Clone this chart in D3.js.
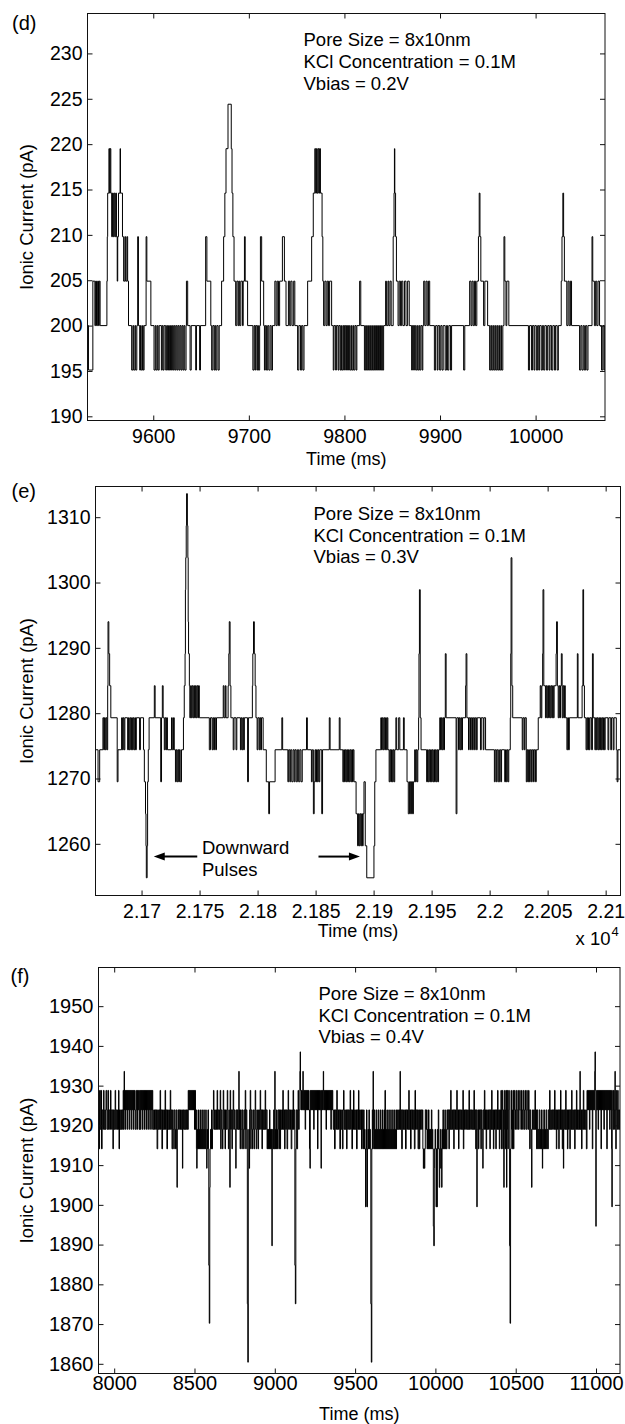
<!DOCTYPE html>
<html><head><meta charset="utf-8">
<script src="https://cdn.jsdelivr.net/npm/d3@7/dist/d3.min.js"></script>
<style>
html,body{margin:0;padding:0;background:#fff;}
svg{display:block;}
text{font-family:"Liberation Sans",Arial,Helvetica,sans-serif;fill:#000;}
</style></head><body>
<svg id="chart" width="625" height="1424"></svg>
<script>
// ================= DATA =================
// panel (d)
const dXDomain = [9531.2, 10072.6];
const dYDomain = [189.54, 234.4];
const dXTicks = [9600, 9700, 9800, 9900, 10000];
const dXTickLabels = ["9600", "9700", "9800", "9900", "10000"];
const dYTicks = [190, 195, 200, 205, 210, 215, 220, 225, 230];
const dYTickLabels = ["190", "195", "200", "205", "210", "215", "220", "225", "230"];
const dInfo = ["Pore Size = 8x10nm", "KCl Concentration = 0.1M", "Vbias = 0.2V"];
// [time ms, current pA]
const dSamples = [
[9531,200],[9532.2,195.1],[9536.8,204.9],[9538.9,200],[9539.7,204.9],[9540.6,200],[9541.8,204.9],[9542.7,200],[9543.5,204.9],[9544.4,200],
[9551.5,204.9],[9551.9,209.8],[9552.3,214.6],[9553.6,219.5],[9554.4,214.6],[9554.8,219.5],[9555.6,214.6],[9556.5,209.8],[9557.3,214.6],[9558.2,209.8],[9559,214.6],[9559.8,209.8],[9560.7,214.6],[9561.5,209.8],[9562.3,204.9],[9562.8,209.8],[9563.6,214.6],[9565.3,219.5],[9565.7,214.6],[9567.8,209.8],[9569,204.9],[9570.3,209.8],[9571.1,204.9],[9572.4,209.8],[9573.2,204.9],[9574.1,200],
[9577.4,195.1],[9578.7,200],[9579.5,195.1],[9580.8,200],[9581.6,195.1],[9582.8,200],[9583.7,209.8],[9584.5,200],[9585.8,195.1],[9586.6,200],[9587.4,195.1],[9588.7,200],[9589.5,195.1],[9590.4,200],[9592.5,209.8],[9593.3,204.9],[9597.5,200],
[9600.8,195.1],[9602.1,200],[9603,195.1],[9604.2,200],[9605.1,195.1],[9606.2,200],[9608.5,195.1],[9609.4,200],[9610.3,195.1],[9611.3,200],[9613,195.1],[9614,200],[9615,195.1],[9616,200],[9616.9,195.1],[9618,200],[9619,195.1],[9620,200],[9621,195.1],[9622,200],[9623,195.1],[9624,200],[9625,195.1],[9626,200],[9627,195.1],[9628,200],[9629,195.1],[9630,200],[9631,195.1],[9632,200],[9633,195.1],[9634.3,200],
[9634.7,204.9],[9636,200],[9638.5,195.1],[9639.7,200],[9644.4,195.1],[9645.2,200],[9648.5,195.1],[9649.4,200],[9654.8,209.8],[9656.1,204.9],[9660.2,200],
[9661.1,195.1],[9662.3,200],[9663.6,195.1],[9664.4,200],[9665.3,195.1],[9666.5,200],[9667.8,195.1],[9669,200],
[9671.5,204.9],[9673.6,209.8],[9674.9,214.6],[9676.1,219.5],[9678.2,224.4],[9681.6,219.5],[9682.4,214.6],[9683.3,209.8],[9684.5,204.9],
[9686.2,200],[9687.4,204.9],[9688.7,200],[9689.5,204.9],[9690.4,200],[9691.6,204.9],[9693.3,200],[9694.1,204.9],[9695.4,209.8],[9696.2,204.9],[9698.7,200],
[9704.2,195.1],[9705.4,200],[9706.3,195.1],[9707.1,200],[9708.4,195.1],[9709.2,200],[9710,195.1],[9711.3,200],
[9712.1,209.8],[9713.4,204.9],[9715.5,200],
[9716.3,195.1],[9717.2,200],[9718.4,195.1],[9719.7,200],[9720.9,195.1],[9722.2,200],[9723.4,195.1],[9724.7,200],
[9727.2,204.9],[9728.5,200],[9729.7,204.9],[9731,200],[9732.2,204.9],[9735.1,209.8],[9737.2,204.9],[9738.9,200],
[9741.4,204.9],[9742.7,200],[9743.9,204.9],[9745.2,200],[9746.9,204.9],[9748.1,200],[9751,195.1],[9752.3,200],[9754,195.1],[9755.2,200],[9756.5,195.1],[9757.7,200],
[9761.5,204.9],[9765.7,209.8],[9767.4,214.6],[9769,219.5],[9769.9,214.6],[9770.7,219.5],[9771.5,214.6],[9772.4,219.5],[9773.2,214.6],[9774,219.5],[9774.9,214.6],[9776.6,209.8],[9777.4,204.9],
[9778.2,200],[9779.5,204.9],[9780.8,200],[9782,204.9],[9783.3,200],[9784.5,204.9],[9786.6,200],
[9788.3,195.1],[9789.1,200],[9790.8,195.1],[9791.6,200],[9793.3,195.1],[9794.1,200],[9795.4,195.1],[9796.2,200],[9797,195.1],[9798.3,200],[9799.2,195.1],[9800,200],[9801.3,195.1],[9802.1,200],[9803.3,195.1],[9804.2,200],[9805.4,195.1],[9806.7,200],[9807.5,195.1],[9808.8,200],[9809.6,195.1],[9810.9,200],[9812.1,195.1],[9813,200],
[9815.9,204.9],[9817.1,200],
[9820.9,195.1],[9822.2,200],[9823,195.1],[9824.3,200],[9825.1,195.1],[9826.4,200],[9827.2,195.1],[9828.5,200],[9829.3,195.1],[9830.6,200],[9831.4,195.1],[9832.6,200],[9833.5,195.1],[9834.7,200],[9835.6,195.1],[9836.8,200],[9837.7,195.1],[9838.9,200],[9839.7,195.1],[9841,200],
[9843.1,204.9],[9843.9,200],[9845.5,204.9],[9846.4,200],[9847.7,204.9],[9848.9,200],
[9851,209.8],[9851.9,214.6],[9852.3,219.5],[9852.7,214.6],[9853.5,209.8],[9854.4,204.9],
[9856.1,200],[9857.3,204.9],[9858.6,200],[9859.8,204.9],[9861.1,200],[9862.8,204.9],[9864.4,200],[9866.1,204.9],[9867.8,200],
[9870.3,195.1],[9871.1,200],[9872.4,195.1],[9873.2,200],[9874.5,195.1],[9875.7,200],[9876.6,195.1],[9877.8,200],[9878.7,195.1],[9879.9,200],[9881.2,195.1],[9882,200],
[9882.9,204.9],[9884.1,200],[9885.4,204.9],[9886.6,200],[9887.9,204.9],[9889.2,200],
[9894.1,195.1],[9895.4,200],[9897.1,195.1],[9897.9,200],[9899.6,195.1],[9900.8,200],[9902.1,195.1],[9903.3,200],[9905.4,195.1],[9906.7,200],[9907.9,195.1],[9909.2,200],[9910.9,195.1],[9912.1,200],
[9924.7,195.1],[9925.9,200],
[9931,204.9],[9932.4,200],[9933.5,204.9],[9934.7,200],[9936,204.9],[9937.2,200],[9938.5,204.9],
[9940.2,209.8],[9941,214.6],[9941.8,209.8],[9942.7,204.9],
[9945.6,200],[9946.9,204.9],[9949.8,200],
[9951.9,195.1],[9953.1,200],[9954,195.1],[9955.2,200],[9956.1,195.1],[9957.3,200],[9958.2,195.1],[9959.4,200],[9960.3,195.1],[9961.5,200],[9962.3,195.1],[9963.6,200],[9964.4,195.1],[9965.7,200],
[9966.9,209.8],[9967.8,204.9],[9969,200],[9969.9,204.9],[9972,200],
[9992.5,195.1],[9993.7,200],[9995.8,195.1],[9996.7,200],[9998.3,195.1],[9999.2,200],[10000.8,195.1],[10002.1,200],[10003.3,195.1],[10004.2,200],[10005.9,195.1],[10007.1,200],[10008.4,195.1],[10009.6,200],[10011.3,195.1],[10012.6,200],[10014.2,195.1],[10015.1,200],[10016.7,195.1],[10018,200],[10019.7,195.1],[10020.9,200],[10022.6,195.1],[10023.8,200],
[10026.8,204.9],[10027.6,209.8],[10028.5,214.6],[10029.3,209.8],[10030.1,204.9],
[10032.6,200],[10033.9,204.9],[10035.1,200],[10036.4,204.9],[10037.6,200],
[10046,195.1],[10047.3,200],[10048.5,195.1],[10049.8,200],[10051,195.1],[10052.3,200],[10053.6,195.1],[10054.8,200],
[10059,209.8],[10059.8,204.9],
[10061.5,200],[10062.8,204.9],[10064,200],[10065.3,204.9],[10066.9,200],
[10069,195.1],[10070.3,200],[10071.5,195.1],[10072.4,200],[10073,200]
];

// panel (e)
const eXDomain = [21660.3, 22112.8];
const eYDomain = [1252.09, 1314.7];
const eXTicks = [21700, 21750, 21800, 21850, 21900, 21950, 22000, 22050, 22100];
const eXTickLabels = ["2.17", "2.175", "2.18", "2.185", "2.19", "2.195", "2.2", "2.205", "2.21"];
const eYTicks = [1260, 1270, 1280, 1290, 1300, 1310];
const eYTickLabels = ["1260", "1270", "1280", "1290", "1300", "1310"];
const eInfo = ["Pore Size = 8x10nm", "KCl Concentration = 0.1M", "Vbias = 0.3V"];
const eNote = ["Downward", "Pulses"];
const eSamples = [
[21659.8,1274.4],[21662.5,1269.5],[21663.9,1274.4],[21666.7,1279.3],[21667.4,1274.4],[21668,1279.3],[21668.7,1274.4],[21669.4,1279.3],[21670.1,1274.4],[21670.8,1284.2],[21671.1,1294],[21671.8,1289.1],[21672.5,1284.2],[21673.5,1279.3],
[21679,1269.5],[21679.7,1274.4],[21682.8,1279.3],[21683.5,1274.4],[21684.2,1279.3],[21684.9,1274.4],[21685.6,1279.3],[21688,1274.4],[21688.7,1279.3],[21689.3,1274.4],[21690,1279.3],[21690.7,1274.4],[21691.4,1279.3],[21692.1,1274.4],[21692.8,1279.3],[21693.5,1274.4],[21694.2,1279.3],[21694.8,1274.4],[21695.5,1279.3],[21698.3,1274.4],[21699,1279.3],
[21701.7,1274.4],[21702.4,1269.5],[21703.4,1264.6],[21703.8,1259.7],[21704.1,1254.8],[21704.8,1259.7],[21705.2,1269.5],[21705.8,1274.4],[21706.5,1279.3],
[21711,1284.2],[21711.7,1279.3],[21716.5,1269.5],[21717.2,1279.3],[21717.9,1284.2],[21718.6,1279.3],[21719.6,1274.4],[21720.3,1279.3],[21721,1274.4],[21721.6,1279.3],[21722.3,1274.4],[21725.8,1279.3],[21726.5,1274.4],[21727.5,1279.3],[21728.2,1274.4],
[21729.2,1269.5],[21729.9,1274.4],[21730.6,1269.5],[21731.3,1274.4],[21732,1269.5],[21732.6,1274.4],[21733.3,1269.5],[21734.4,1274.4],
[21736.1,1279.3],[21736.8,1284.2],[21737.5,1289.1],[21737.8,1298.9],[21738.1,1303.8],[21738.5,1308.7],[21738.8,1313.6],[21739.5,1308.7],[21739.9,1303.8],[21740.2,1294],[21740.5,1289.1],[21741.2,1284.2],
[21741.6,1279.3],[21742.3,1284.2],[21742.9,1279.3],[21743.6,1284.2],[21744.3,1279.3],[21745,1284.2],[21745.7,1279.3],[21746.4,1284.2],[21747.1,1279.3],[21747.8,1284.2],[21748.5,1279.3],[21749.1,1284.2],[21749.8,1279.3],
[21758.4,1274.4],[21759.4,1279.3],[21760.8,1274.4],[21761.5,1279.3],[21762.2,1274.4],[21762.9,1279.3],[21763.9,1274.4],[21764.6,1279.3],
[21770.4,1284.2],[21771.1,1279.3],[21772.2,1284.2],[21772.8,1279.3],[21774.6,1284.2],[21775.2,1289.1],[21775.6,1294],[21776.3,1284.2],[21777,1279.3],
[21779,1274.4],[21779.7,1279.3],[21781.4,1274.4],[21782.1,1279.3],[21785.2,1274.4],[21785.9,1279.3],[21786.6,1274.4],[21787.3,1279.3],[21788,1274.4],[21788.6,1279.3],[21791.4,1269.5],[21792.1,1279.3],
[21795.5,1284.2],[21795.9,1289.1],[21796.5,1294],[21797.2,1289.1],[21797.9,1284.2],[21798.6,1279.3],
[21799.6,1274.4],[21800.3,1279.3],[21801.4,1274.4],[21802,1279.3],[21802.7,1274.4],[21803.4,1279.3],[21804.8,1274.4],[21807.5,1269.5],[21809.6,1264.6],[21810.3,1269.5],[21815.1,1274.4],[21820.9,1279.3],[21821.6,1274.4],
[21826.1,1269.5],[21826.8,1274.4],[21827.8,1269.5],[21828.5,1274.4],[21829.5,1269.5],[21830.6,1274.4],[21831.6,1269.5],[21832.3,1274.4],[21833.3,1269.5],[21834.3,1274.4],[21835.4,1269.5],[21836.4,1274.4],[21837.4,1269.5],[21838.5,1274.4],
[21842.2,1279.3],[21842.9,1274.4],
[21846.4,1269.5],[21847.1,1274.4],[21848.1,1264.6],[21848.8,1269.5],[21849.5,1274.4],[21850.1,1269.5],[21850.8,1274.4],[21851.5,1269.5],[21852.2,1274.4],[21852.9,1269.5],[21853.6,1274.4],[21855.3,1264.6],[21856,1274.4],
[21861.8,1279.3],[21862.5,1274.4],[21870.4,1279.3],[21871.1,1274.4],
[21873.5,1269.5],[21874.2,1274.4],[21874.9,1269.5],[21875.6,1274.4],[21876.3,1269.5],[21876.9,1274.4],[21877.6,1269.5],[21878.3,1274.4],[21879,1269.5],[21879.7,1274.4],[21880.4,1269.5],[21881.1,1274.4],[21881.8,1269.5],[21882.4,1274.4],[21883.1,1269.5],
[21884.9,1264.6],[21886.2,1259.7],[21886.9,1264.6],[21887.6,1259.7],[21888.3,1264.6],[21889,1259.7],[21889.7,1264.6],[21890.4,1259.7],[21891,1264.6],[21891.7,1269.5],[21892.8,1259.7],[21894.1,1254.8],[21900.3,1259.7],[21901,1269.5],[21902,1274.4],
[21906.2,1279.3],[21906.8,1274.4],[21907.5,1279.3],[21908.2,1274.4],[21908.9,1279.3],[21909.6,1274.4],[21910.3,1279.3],[21911,1274.4],[21911.7,1279.3],[21912.3,1274.4],
[21913.4,1269.5],[21914.1,1274.4],[21914.8,1269.5],[21915.4,1274.4],[21916.1,1269.5],[21916.8,1274.4],[21917.5,1269.5],[21918.2,1274.4],
[21919.2,1279.3],[21919.9,1274.4],[21921.6,1279.3],[21922.6,1274.4],[21925.7,1279.3],[21926.4,1274.4],
[21928.8,1269.5],[21929.9,1264.6],[21930.9,1269.5],[21931.9,1264.6],[21932.6,1269.5],[21933.6,1264.6],[21934.3,1269.5],[21935.4,1274.4],[21936,1269.5],[21936.7,1274.4],[21937.4,1269.5],[21938.1,1274.4],
[21938.8,1279.3],[21939.1,1289.1],[21939.5,1298.9],[21940.2,1279.3],[21940.9,1274.4],
[21945.7,1269.5],[21946.4,1274.4],[21947,1269.5],[21947.7,1274.4],[21948.4,1269.5],[21949.1,1274.4],[21949.8,1269.5],[21950.5,1274.4],[21951.2,1269.5],[21951.9,1274.4],[21952.5,1269.5],[21953.2,1274.4],[21953.9,1269.5],[21954.6,1274.4],[21955.3,1269.5],[21956,1274.4],
[21957,1279.3],[21957.7,1274.4],[21958.4,1279.3],[21959.1,1274.4],[21959.8,1279.3],[21960.4,1274.4],[21961.1,1279.3],[21961.8,1289.1],[21962.5,1279.3],
[21971.1,1264.6],[21971.8,1279.3],[21973.2,1274.4],[21973.8,1279.3],[21974.5,1274.4],[21975.2,1279.3],[21975.9,1274.4],[21976.6,1279.3],[21979.3,1284.2],[21979.7,1289.1],[21980.4,1279.3],
[21981.8,1274.4],[21982.4,1279.3],[21983.5,1274.4],[21984.2,1279.3],[21985.2,1274.4],[21985.9,1279.3],[21986.9,1274.4],[21987.6,1279.3],[21988.6,1274.4],[21989.3,1279.3],
[21992.1,1274.4],[21992.8,1279.3],[21994.5,1274.4],[21995.1,1279.3],[21996.5,1274.4],
[22004.1,1269.5],[22004.8,1274.4],[22005.8,1269.5],[22006.5,1274.4],[22007.5,1269.5],[22008.6,1274.4],[22009.6,1269.5],[22010.3,1274.4],
[22013,1269.5],[22013.7,1274.4],[22014.4,1269.5],[22015.1,1274.4],[22015.8,1269.5],[22016.5,1274.4],
[22017.8,1279.3],[22018.2,1289.1],[22018.5,1303.8],[22019.2,1284.2],[22019.9,1279.3],
[22028.1,1274.4],[22028.8,1279.3],[22029.9,1274.4],[22030.5,1279.3],[22031.6,1269.5],[22032.3,1274.4],[22032.9,1269.5],[22033.6,1274.4],[22034.3,1269.5],[22035,1274.4],[22036,1269.5],[22036.7,1274.4],[22037.8,1269.5],[22038.4,1274.4],[22039.5,1269.5],[22040.2,1274.4],
[22041.9,1279.3],[22043.6,1284.2],[22044.3,1279.3],[22045,1284.2],[22045.7,1289.1],[22046,1298.9],[22046.7,1284.2],
[22048.1,1279.3],[22048.8,1284.2],[22049.4,1279.3],[22050.1,1284.2],[22050.8,1279.3],[22051.5,1284.2],[22052.2,1279.3],[22052.9,1284.2],[22053.6,1279.3],[22054.3,1284.2],[22054.9,1279.3],[22055.6,1284.2],
[22057.3,1289.1],[22057.7,1294],[22058.4,1284.2],[22059.1,1279.3],[22059.8,1284.2],[22060.4,1279.3],[22061.1,1284.2],[22061.8,1289.1],[22062.5,1279.3],[22063.2,1284.2],[22063.9,1279.3],[22064.6,1284.2],[22065.2,1279.3],
[22066.6,1274.4],[22067.3,1279.3],[22068,1274.4],[22068.7,1279.3],
[22075.6,1289.1],[22076.2,1279.3],[22079.7,1284.2],[22080.4,1298.9],[22081,1284.2],[22081.7,1279.3],
[22083.1,1274.4],[22083.8,1279.3],[22084.5,1274.4],[22085.2,1279.3],[22085.9,1274.4],[22086.5,1279.3],[22087.9,1274.4],[22088.6,1289.1],[22089.3,1279.3],
[22090.7,1274.4],[22091.4,1279.3],[22092,1274.4],[22092.7,1279.3],[22093.4,1274.4],[22094.1,1279.3],[22094.8,1274.4],[22095.5,1279.3],[22096.2,1274.4],[22096.8,1279.3],[22097.5,1274.4],[22098.2,1279.3],[22098.9,1274.4],[22099.6,1279.3],
[22102,1274.4],[22102.7,1279.3],[22104.4,1274.4],[22105.1,1279.3],[22106.5,1274.4],[22107.2,1279.3],[22109.2,1274.4],[22109.9,1269.5],[22110.6,1274.4],[22112.8,1274.4]
];

// panel (f)
const fXDomain = [7902.3, 11149.4];
const fYDomain = [1857.56, 1959.73];
const fXTicks = [8000, 8500, 9000, 9500, 10000, 10500, 11000];
const fXTickLabels = ["8000", "8500", "9000", "9500", "10000", "10500", "11000"];
const fYTicks = [1860, 1870, 1880, 1890, 1900, 1910, 1920, 1930, 1940, 1950];
const fYTickLabels = ["1860", "1870", "1880", "1890", "1900", "1910", "1920", "1930", "1940", "1950"];
const fInfo = ["Pore Size = 8x10nm", "KCl Concentration = 0.1M", "Vbias = 0.4V"];
const fSamples = [
[7902,1923.9],[7906,1914.1],[7909,1928.8],[7913,1919],[7917,1928.8],[7921,1914.1],[7925,1923.9],[7929,1919],[7933,1928.8],[7937,1919],[7941,1923.9],[7945,1919],[7949,1928.8],[7953,1923.9],[7957,1919],[7961,1928.8],[7965,1919],[7969,1923.9],[7973,1919],
[7977,1928.8],[7980,1923.9],[7984,1919],[7988,1923.9],[7992,1914.1],[7995,1923.9],[7999,1919],[8003,1923.9],[8006,1928.8],[8009,1919],[8013,1923.9],[8017,1919],[8021,1923.9],[8025,1919],[8027,1928.8],[8030,1914.1],[8033,1923.9],[8037,1919],[8041,1923.9],[8045,1919],[8049,1923.9],[8053,1919],
[8056,1928.8],[8059,1919],[8062,1933.6],[8064,1923.9],[8067,1928.8],[8070,1919],[8073,1928.8],[8076,1923.9],[8079,1928.8],[8082,1919],[8085,1928.8],[8088,1923.9],[8091,1928.8],[8094,1919],[8097,1928.8],[8100,1923.9],[8103,1928.8],[8106,1919],[8109,1928.8],[8112,1923.9],[8115,1928.8],[8118,1919],[8121,1928.8],[8124,1923.9],[8127,1928.8],[8130,1919],[8134,1923.9],[8138,1928.8],[8141,1919],[8145,1928.8],[8148,1923.9],[8152,1928.8],[8155,1919],[8159,1928.8],
[8162,1919],[8165,1928.8],[8168,1923.9],[8171,1928.8],[8174,1919],[8177,1928.8],[8180,1923.9],[8183,1928.8],[8186,1919],[8189,1928.8],[8192,1923.9],[8195,1928.8],[8198,1919],[8201,1928.8],[8204,1923.9],[8207,1928.8],[8210,1919],[8213,1928.8],[8216,1923.9],[8219,1928.8],[8222,1919],[8225,1928.8],[8228,1923.9],[8231,1928.8],[8234,1919],[8237,1928.8],[8240,1923.9],[8243,1919],[8247,1923.9],[8251,1919],
[8255,1923.9],[8259,1919],[8263,1923.9],[8267,1914.1],[8271,1923.9],[8275,1919],[8279,1923.9],[8283,1919],[8286,1928.8],[8289,1919],[8293,1923.9],[8297,1914.1],[8301,1923.9],[8305,1919],[8309,1923.9],[8313,1919],[8317,1928.8],[8320,1919],[8324,1923.9],[8328,1914.1],[8332,1923.9],[8336,1919],[8340,1923.9],[8344,1919],[8349,1928.8],[8352,1919],[8356,1923.9],[8360,1914.1],[8364,1923.9],
[8367,1919],[8371,1914.1],[8374,1923.9],[8378,1919],[8382,1914.1],[8385,1923.9],[8389,1914.1],[8391,1904.4],[8393,1919],[8397,1923.9],[8401,1919],[8405,1923.9],[8409,1919],[8413,1923.9],[8417,1919],[8421,1923.9],[8425,1909.2],[8427,1919],[8431,1923.9],[8435,1919],[8439,1923.9],[8443,1919],[8447,1923.9],[8451,1919],[8455,1923.9],[8458,1919],
[8461,1928.8],[8464,1923.9],[8467,1928.8],[8470,1923.9],[8473,1928.8],[8476,1923.9],[8479,1928.8],[8482,1923.9],[8485,1928.8],[8488,1923.9],[8491,1928.8],[8494,1923.9],[8497,1928.8],[8500,1919],[8503,1928.8],[8506,1919],[8509,1923.9],[8512,1914.1],[8514,1909.2],[8516,1919],
[8519,1914.1],[8522,1923.9],[8525,1914.1],[8528,1919],[8531,1914.1],[8534,1923.9],[8537,1914.1],[8540,1919],[8543,1914.1],[8546,1923.9],[8549,1914.1],[8552,1919],[8555,1914.1],[8558,1923.9],[8561,1914.1],[8564,1919],[8567,1914.1],[8570,1923.9],[8573,1914.1],[8576,1909.2],[8578,1919],[8581,1914.1],[8584,1923.9],[8587,1914.1],[8589,1884.8],[8592,1870.2],[8595,1904.4],[8597,1914.1],[8600,1919],[8603,1914.1],[8606,1923.9],[8609,1914.1],[8612,1919],[8615,1923.9],
[8618,1928.8],[8621,1919],[8625,1923.9],[8629,1919],[8633,1923.9],[8637,1919],[8641,1928.8],[8644,1919],[8648,1923.9],[8652,1919],[8656,1923.9],[8660,1928.8],[8663,1914.1],[8666,1923.9],[8670,1919],[8674,1914.1],[8677,1923.9],[8679,1928.8],[8682,1919],[8686,1923.9],[8690,1914.1],[8693,1923.9],[8697,1919],[8701,1923.9],[8704,1928.8],[8707,1919],[8711,1914.1],[8714,1923.9],[8717,1919],[8720,1904.4],[8722,1928.8],[8725,1919],[8729,1923.9],[8733,1914.1],[8736,1923.9],[8741,1928.8],[8744,1919],[8748,1923.9],[8752,1919],[8757,1909.2],[8759,1923.9],[8763,1919],[8767,1923.9],[8771,1919],[8776,1933.6],[8778,1919],[8781,1923.9],
[8784,1914.1],[8787,1923.9],[8791,1919],[8795,1914.1],[8798,1923.9],[8802,1919],[8806,1914.1],[8809,1923.9],[8813,1919],[8816,1928.8],[8819,1914.1],[8822,1923.9],[8826,1919],[8829,1875.1],[8832,1860.4],[8835,1909.2],[8838,1919],[8841,1909.2],[8843,1923.9],[8847,1928.8],[8850,1914.1],[8853,1923.9],[8857,1919],[8861,1914.1],[8864,1923.9],[8868,1919],[8872,1914.1],[8875,1923.9],[8878,1928.8],[8881,1919],[8885,1914.1],[8888,1923.9],[8892,1919],[8896,1914.1],[8899,1923.9],[8903,1919],[8906,1923.9],[8909,1928.8],[8912,1919],[8916,1923.9],[8920,1914.1],[8923,1923.9],[8927,1919],[8931,1923.9],[8935,1919],[8940,1928.8],[8943,1919],[8947,1923.9],
[8952,1914.1],[8955,1919],[8958,1914.1],[8961,1919],[8964,1914.1],[8967,1923.9],[8970,1914.1],[8973,1919],[8976,1914.1],[8979,1919],[8982,1889.7],[8984,1914.1],[8987,1919],[8990,1914.1],[8993,1923.9],[8996,1914.1],[9000,1933.6],[9002,1914.1],[9005,1919],[9008,1914.1],[9011,1923.9],[9014,1914.1],
[9017,1919],[9021,1923.9],[9025,1914.1],[9029,1923.9],[9033,1914.1],[9036,1923.9],[9040,1919],[9044,1923.9],[9048,1919],[9050,1928.8],[9053,1919],[9057,1923.9],[9061,1914.1],[9064,1923.9],[9068,1919],[9072,1923.9],[9076,1914.1],[9080,1923.9],[9083,1928.8],[9086,1919],[9090,1923.9],[9094,1919],[9098,1923.9],[9102,1914.1],[9106,1923.9],[9110,1919],[9114,1928.8],[9117,1919],[9121,1923.9],[9125,1884.8],[9128,1875.1],[9131,1914.1],[9134,1923.9],[9138,1914.1],[9142,1923.9],[9145,1928.8],[9148,1919],[9152,1923.9],
[9156,1933.6],[9158,1938.5],[9160,1928.8],[9163,1923.9],[9166,1928.8],[9169,1923.9],[9172,1928.8],[9175,1933.6],[9177,1923.9],[9180,1928.8],[9183,1923.9],[9186,1928.8],[9189,1919],[9192,1928.8],[9195,1923.9],[9198,1928.8],[9201,1923.9],[9204,1928.8],[9207,1923.9],[9210,1928.8],[9213,1923.9],[9216,1914.1],[9219,1909.2],[9221,1928.8],[9224,1923.9],[9227,1928.8],[9230,1923.9],[9233,1928.8],[9236,1923.9],[9239,1928.8],[9242,1919],[9245,1928.8],[9248,1923.9],[9251,1928.8],[9254,1923.9],[9257,1928.8],[9260,1923.9],[9263,1928.8],[9266,1914.1],[9269,1928.8],[9272,1923.9],[9275,1928.8],[9278,1923.9],[9281,1928.8],[9284,1923.9],[9288,1909.2],[9290,1928.8],[9293,1923.9],[9296,1928.8],[9299,1923.9],[9302,1933.6],[9304,1928.8],[9307,1923.9],[9310,1928.8],[9313,1923.9],[9316,1928.8],[9319,1919],[9322,1928.8],[9325,1923.9],[9328,1928.8],[9331,1923.9],[9334,1928.8],[9337,1923.9],[9340,1928.8],[9343,1923.9],[9346,1928.8],[9349,1919],[9352,1928.8],[9355,1923.9],[9358,1928.8],[9361,1923.9],
[9364,1919],[9368,1923.9],[9372,1914.1],[9376,1923.9],[9380,1919],[9384,1923.9],[9386,1928.8],[9389,1919],[9393,1923.9],[9397,1919],[9401,1923.9],[9405,1914.1],[9409,1923.9],[9413,1919],[9417,1923.9],[9421,1914.1],[9425,1923.9],[9428,1928.8],[9431,1919],[9435,1923.9],[9439,1919],[9443,1923.9],[9447,1914.1],[9450,1923.9],[9454,1919],[9458,1923.9],[9462,1919],[9466,1923.9],[9469,1928.8],[9472,1919],[9476,1923.9],[9480,1914.1],[9484,1923.9],[9488,1919],[9490,1928.8],[9493,1919],[9497,1923.9],[9501,1919],[9505,1923.9],[9509,1914.1],[9513,1923.9],[9517,1919],[9521,1928.8],[9524,1919],[9528,1923.9],[9532,1919],[9536,1923.9],[9540,1914.1],[9544,1923.9],[9547,1919],
[9550,1914.1],[9553,1923.9],[9556,1914.1],[9559,1919],[9562,1914.1],[9565,1899.5],[9568,1914.1],[9571,1923.9],[9574,1899.5],[9577,1914.1],[9580,1919],[9583,1914.1],[9586,1923.9],[9589,1914.1],[9592,1919],[9595,1914.1],[9598,1875.1],[9601,1860.4],[9604,1914.1],[9607,1923.9],[9610,1914.1],[9612,1933.6],[9614,1919],[9617,1914.1],[9620,1923.9],[9623,1914.1],[9626,1919],[9629,1914.1],[9632,1923.9],[9635,1914.1],[9638,1919],[9641,1914.1],[9644,1923.9],[9647,1914.1],[9650,1919],[9653,1914.1],
[9656,1923.9],[9659,1914.1],[9662,1919],[9665,1914.1],[9668,1923.9],[9671,1914.1],[9674,1919],[9677,1914.1],[9680,1923.9],[9683,1914.1],[9686,1928.8],[9689,1914.1],[9692,1919],[9695,1914.1],[9698,1923.9],[9701,1914.1],[9704,1919],[9707,1914.1],[9710,1923.9],[9713,1914.1],[9716,1919],[9719,1914.1],[9722,1923.9],[9725,1914.1],[9728,1919],[9731,1914.1],[9734,1923.9],[9737,1914.1],[9740,1919],[9743,1914.1],[9746,1923.9],[9749,1914.1],[9752,1919],[9755,1914.1],[9758,1923.9],
[9761,1919],[9765,1923.9],[9769,1919],[9773,1923.9],[9777,1919],[9780,1933.6],[9782,1919],[9786,1923.9],[9790,1914.1],[9794,1923.9],[9798,1919],[9802,1923.9],[9806,1919],[9810,1923.9],[9814,1914.1],[9818,1923.9],[9822,1919],[9826,1923.9],[9830,1919],[9834,1928.8],[9837,1919],[9841,1923.9],[9845,1914.1],[9849,1923.9],[9853,1919],[9857,1923.9],[9861,1919],[9865,1923.9],[9869,1914.1],[9873,1928.8],[9876,1919],[9880,1923.9],[9884,1919],[9888,1923.9],[9892,1914.1],[9896,1923.9],[9900,1914.1],[9903,1923.9],[9907,1919],[9911,1923.9],[9915,1919],[9919,1923.9],[9922,1914.1],[9925,1909.2],[9928,1914.1],[9931,1909.2],[9934,1914.1],[9937,1923.9],[9941,1919],[9945,1923.9],
[9948,1914.1],[9951,1919],[9954,1914.1],[9957,1923.9],[9960,1914.1],[9963,1919],[9966,1914.1],[9969,1919],[9972,1914.1],[9975,1923.9],[9978,1914.1],[9981,1919],[9984,1914.1],[9987,1894.6],[9990,1889.7],[9993,1909.2],[9995,1914.1],[9998,1919],[10001,1914.1],[10004,1899.5],[10007,1914.1],[10010,1899.5],[10012,1919],[10015,1914.1],[10018,1923.9],[10021,1914.1],[10024,1904.4],[10027,1914.1],[10030,1919],[10033,1909.2],[10036,1914.1],[10039,1904.4],[10041,1919],[10044,1914.1],[10047,1923.9],[10050,1914.1],[10053,1919],[10056,1914.1],[10059,1923.9],[10062,1914.1],[10065,1919],[10068,1914.1],
[10072,1923.9],[10076,1919],[10080,1923.9],[10084,1914.1],[10087,1923.9],[10091,1919],[10095,1928.8],[10098,1919],[10102,1923.9],[10106,1919],[10110,1923.9],[10114,1914.1],[10117,1923.9],[10121,1919],[10125,1923.9],[10129,1919],[10133,1928.8],[10136,1919],[10140,1923.9],[10144,1914.1],[10147,1923.9],[10151,1919],[10155,1923.9],[10159,1919],[10163,1923.9],[10167,1919],[10171,1928.8],[10174,1914.1],[10177,1923.9],[10181,1919],[10185,1923.9],[10189,1919],[10193,1923.9],[10197,1919],[10201,1923.9],[10205,1919],[10209,1928.8],[10212,1919],[10216,1923.9],[10220,1919],[10224,1923.9],[10228,1919],[10232,1923.9],[10236,1919],[10240,1928.8],[10243,1919],[10247,1923.9],[10251,1914.1],[10254,1923.9],[10258,1899.5],[10260,1919],[10264,1923.9],[10268,1914.1],[10271,1923.9],[10275,1919],[10279,1923.9],[10283,1914.1],[10286,1923.9],[10290,1919],[10295,1909.2],[10297,1923.9],[10301,1919],[10305,1928.8],[10308,1919],[10312,1923.9],[10316,1914.1],[10319,1923.9],[10323,1919],[10327,1923.9],[10331,1919],[10335,1923.9],[10339,1914.1],[10342,1923.9],[10346,1919],[10350,1928.8],[10353,1919],[10357,1923.9],[10361,1914.1],[10364,1923.9],[10368,1919],[10372,1923.9],[10376,1914.1],[10379,1923.9],[10383,1919],[10387,1928.8],[10390,1919],[10394,1923.9],[10398,1914.1],[10401,1923.9],
[10405,1919],[10408,1928.8],[10411,1914.1],[10414,1923.9],[10417,1928.8],[10420,1914.1],[10423,1923.9],[10426,1904.4],[10428,1919],[10431,1928.8],[10434,1914.1],[10437,1923.9],[10440,1928.8],[10443,1904.4],[10445,1919],[10448,1928.8],[10451,1914.1],[10454,1923.9],[10457,1928.8],[10460,1914.1],[10462,1889.7],[10465,1870.2],[10468,1914.1],[10471,1928.8],[10474,1919],[10477,1914.1],[10480,1923.9],[10483,1928.8],[10486,1914.1],[10489,1923.9],[10492,1928.8],[10495,1919],[10499,1923.9],[10503,1928.8],[10506,1919],[10510,1923.9],[10514,1928.8],[10517,1919],[10521,1923.9],[10525,1928.8],[10528,1923.9],[10532,1919],[10536,1928.8],[10539,1923.9],[10543,1919],[10547,1928.8],[10550,1923.9],[10554,1919],[10558,1928.8],[10561,1923.9],[10565,1919],[10569,1928.8],[10572,1923.9],[10576,1919],[10580,1928.8],[10583,1923.9],[10587,1914.1],[10590,1923.9],[10594,1919],[10597,1914.1],[10599,1904.4],[10601,1919],[10605,1923.9],
[10608,1919],[10612,1923.9],[10616,1919],[10620,1928.8],[10623,1919],[10627,1923.9],[10630,1914.1],[10633,1923.9],[10637,1914.1],[10640,1919],[10644,1914.1],[10647,1923.9],[10651,1914.1],[10654,1919],[10658,1914.1],[10661,1923.9],[10664,1914.1],[10666,1909.2],[10668,1919],[10672,1914.1],[10675,1923.9],[10679,1914.1],[10682,1919],[10686,1914.1],[10689,1923.9],[10693,1914.1],[10696,1919],[10700,1914.1],[10703,1923.9],[10707,1919],[10711,1928.8],[10714,1919],[10718,1923.9],[10722,1919],[10726,1923.9],[10730,1919],[10734,1923.9],[10738,1919],[10742,1928.8],[10745,1919],[10749,1923.9],[10753,1914.1],[10756,1923.9],[10760,1919],[10764,1923.9],[10768,1914.1],[10771,1923.9],[10775,1919],[10779,1928.8],[10782,1919],[10786,1923.9],[10790,1914.1],[10793,1923.9],[10797,1909.2],[10799,1919],[10803,1923.9],[10807,1919],[10811,1928.8],[10814,1919],[10818,1923.9],[10822,1914.1],[10825,1923.9],[10829,1919],[10833,1923.9],[10837,1914.1],[10840,1923.9],[10844,1919],[10848,1928.8],[10851,1919],[10855,1923.9],[10859,1919],[10863,1923.9],[10867,1914.1],[10870,1923.9],[10874,1919],[10878,1928.8],[10881,1919],[10885,1923.9],[10889,1919],[10893,1923.9],[10897,1919],[10900,1933.6],[10902,1919],[10906,1923.9],[10910,1914.1],[10913,1923.9],[10917,1919],[10921,1928.8],[10924,1919],[10928,1923.9],[10932,1919],[10936,1923.9],[10940,1914.1],
[10944,1928.8],[10947,1923.9],[10950,1928.8],[10953,1923.9],[10956,1928.8],[10959,1919],[10962,1928.8],[10965,1923.9],[10968,1928.8],[10971,1923.9],[10974,1928.8],[10977,1914.1],[10980,1928.8],[10983,1923.9],[10986,1928.8],[10989,1923.9],[10992,1933.6],[10994,1938.5],[10996,1928.8],[10999,1894.6],[11001,1923.9],[11004,1928.8],[11007,1923.9],[11010,1928.8],[11013,1919],[11016,1928.8],[11019,1923.9],[11022,1928.8],[11025,1923.9],[11028,1928.8],[11031,1914.1],[11034,1928.8],[11037,1923.9],[11040,1928.8],[11043,1923.9],[11046,1928.8],[11049,1919],[11052,1928.8],[11055,1923.9],[11058,1928.8],[11061,1923.9],[11064,1928.8],[11067,1914.1],[11070,1928.8],[11073,1923.9],[11076,1928.8],[11079,1923.9],[11082,1928.8],[11085,1919],[11088,1928.8],[11091,1923.9],[11094,1928.8],[11097,1914.1],[11099,1899.5],[11101,1923.9],[11104,1928.8],
[11107,1919],[11110,1928.8],[11113,1923.9],[11116,1919],[11118,1933.6],[11120,1923.9],[11123,1914.1],[11126,1928.8],[11129,1923.9],[11132,1919],[11135,1928.8],[11138,1923.9],[11141,1919],[11144,1923.9],[11147,1919],[11149.4,1919]
];

const xTitle = "Time (ms)";
const yTitle = "Ionic Current (pA)";
const eExponentBase = "x 10";
const eExponent = "4";

// ================= LAYOUT =================
const panels = [
  {id:"d", tag:"(d)", data:dSamples, xDomain:dXDomain, yDomain:dYDomain, xTicks:dXTicks, xLabels:dXTickLabels, yTicks:dYTicks, yLabels:dYTickLabels, info:dInfo,
   box:{l:87.5, r:605, t:13.5, b:420.5}, xPad:8.3, tickFont:19.5, xTitleY:465.3, tagX:12, tagY:30, infoX:303.5, infoY:[45.7,68.3,90]},
  {id:"e", tag:"(e)", data:eSamples, xDomain:eXDomain, yDomain:eYDomain, xTicks:eXTicks, xLabels:eXTickLabels, yTicks:eYTicks, yLabels:eYTickLabels, info:eInfo,
   box:{l:95.5, r:620.5, t:486.5, b:895.5}, xPad:8.3, tickFont:19.5, xTitleY:936.5, tagX:11.5, tagY:498.3, infoX:313.5, infoY:[520,541.7,563.3]},
  {id:"f", tag:"(f)", data:fSamples, xDomain:fXDomain, yDomain:fYDomain, xTicks:fXTicks, xLabels:fXTickLabels, yTicks:fYTicks, yLabels:fYTickLabels, info:fInfo,
   box:{l:98.5, r:620, t:967.5, b:1373.5}, xPad:2, tickFont:20, xTitleY:1420, tagX:10.5, tagY:982.6, infoX:318.5, infoY:[1000,1021.7,1043.3]}
];

const svg = d3.select("#chart");
const FONT = "'Liberation Sans', Arial, Helvetica, sans-serif";
const scales = {};

function styleAxis(g, showText, size){
  g.attr("font-family", FONT).attr("font-size", size).attr("fill", null);
  g.select(".domain").remove();
  g.selectAll(".tick line").attr("stroke", "#111").attr("stroke-width", 1);
  g.selectAll(".tick text").attr("fill", "#000");
  if(!showText) g.selectAll(".tick text").remove();
}

panels.forEach(p => {
  const b = p.box;
  const x = d3.scaleLinear().domain(p.xDomain).range([b.l, b.r]);
  const y = d3.scaleLinear().domain(p.yDomain).range([b.b, b.t]);
  scales[p.id] = {x, y};
  const g = svg.append("g");

  svg.append("clipPath").attr("id", "clip-" + p.id)
    .append("rect").attr("x", b.l).attr("y", b.t).attr("width", b.r - b.l).attr("height", b.b - b.t);

  const line = d3.line().x(d => x(d[0])).y(d => y(d[1])).curve(d3.curveStepAfter);
  g.append("path").datum(p.data)
    .attr("d", line).attr("fill", "none").attr("stroke", "#000").attr("stroke-width", 1)
    .attr("clip-path", "url(#clip-" + p.id + ")");

  // axes (ticks inward, mirrored on top/right)
  g.append("g").attr("transform", `translate(0,${b.b})`)
    .call(d3.axisBottom(x).tickValues(p.xTicks).tickFormat((d,i) => p.xLabels[i]).tickSizeInner(-5).tickSizeOuter(0).tickPadding(p.xPad))
    .call(s => styleAxis(s, true, p.tickFont));
  g.append("g").attr("transform", `translate(0,${b.t})`)
    .call(d3.axisTop(x).tickValues(p.xTicks).tickSizeInner(-5).tickSizeOuter(0))
    .call(s => styleAxis(s, false, p.tickFont));
  g.append("g").attr("transform", `translate(${b.l},0)`)
    .call(d3.axisLeft(y).tickValues(p.yTicks).tickFormat((d,i) => p.yLabels[i]).tickSizeInner(-5).tickSizeOuter(0).tickPadding(5))
    .call(s => styleAxis(s, true, p.tickFont));
  g.append("g").attr("transform", `translate(${b.r},0)`)
    .call(d3.axisRight(y).tickValues(p.yTicks).tickSizeInner(-5).tickSizeOuter(0))
    .call(s => styleAxis(s, false, p.tickFont));

  // box
  g.append("rect").attr("x", b.l).attr("y", b.t).attr("width", b.r - b.l).attr("height", b.b - b.t)
    .attr("fill", "none").attr("stroke", "#111").attr("stroke-width", 1);

  // titles
  g.append("text").attr("x", (b.l + b.r) / 2).attr("y", p.xTitleY).attr("text-anchor", "middle")
    .attr("font-size", 18).text(xTitle);
  g.append("text").attr("transform", `translate(33,${(b.t + b.b) / 2}) rotate(-90)`).attr("text-anchor", "middle")
    .attr("font-size", 18.5).text(yTitle);

  // panel tag
  g.append("text").attr("x", p.tagX).attr("y", p.tagY)
    .attr("font-family", "'Liberation Serif','Times New Roman',serif").attr("font-size", 20).text(p.tag);

  // info block
  p.info.forEach((s, i) => {
    g.append("text").attr("x", p.infoX).attr("y", p.infoY[i]).attr("font-size", 18.5).text(s);
  });
});

// exponent label for (e)
{
  const t = svg.append("text").attr("x", 575.5).attr("y", 944.5).attr("font-size", 18.5);
  t.append("tspan").text(eExponentBase);
  t.append("tspan").attr("font-size", 13).attr("dy", -9).attr("dx", 1).text(eExponent);
}

// "Downward Pulses" annotation with arrows (positioned in data units of panel e)
{
  const {x, y} = scales.e;
  const g = svg.append("g");
  const arrowY = 1258.05;
  g.append("text").attr("x", x(21752)).attr("y", y(1258.45)).attr("font-size", 18.5).text(eNote[0]);
  g.append("text").attr("x", x(21752)).attr("y", y(1255.1)).attr("font-size", 18.5).text(eNote[1]);
  const arrows = [
    {from: 21748, to: 21710.5},
    {from: 21852.5, to: 21888.2}
  ];
  arrows.forEach(a => {
    const x0 = x(a.from), x1 = x(a.to), yy = y(arrowY);
    const dir = Math.sign(x1 - x0);
    const headLen = 11, headHalf = 4;
    g.append("line").attr("x1", x0).attr("y1", yy).attr("x2", x1 - dir * headLen + dir).attr("y2", yy)
      .attr("stroke", "#000").attr("stroke-width", 2);
    g.append("path").attr("d", `M${x1},${yy} L${x1 - dir * headLen},${yy - headHalf} L${x1 - dir * headLen},${yy + headHalf} Z`)
      .attr("fill", "#000");
  });
}
</script>
</body></html>
